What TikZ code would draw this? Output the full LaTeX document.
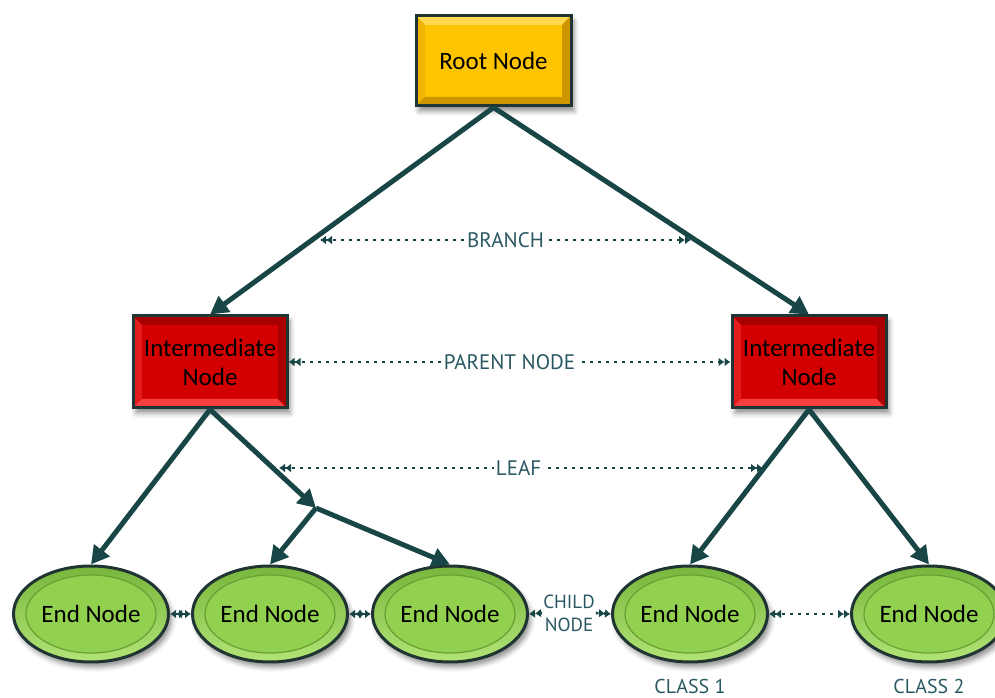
\documentclass[tikz,border=0pt]{standalone}
\usepackage{fontspec}
\setmainfont{Carlito}
\newfontfamily\tagfont{PT Sans}
\usetikzlibrary{arrows.meta,shapes.geometric,shadows.blur}

\definecolor{wire}{RGB}{24,70,70}
\definecolor{rim}{RGB}{32,52,52}
\definecolor{tagtext}{RGB}{42,88,98}
\definecolor{gold}{RGB}{255,196,0}
\definecolor{goldhi}{RGB}{255,216,80}
\definecolor{goldlo}{RGB}{205,150,0}
\definecolor{goldside}{RGB}{240,180,0}
\definecolor{crimson}{RGB}{210,0,0}
\definecolor{crimsonhi}{RGB}{248,64,64}
\definecolor{crimsonlo}{RGB}{168,0,0}
\definecolor{crimsonside}{RGB}{228,28,28}
\definecolor{lime}{RGB}{146,208,80}
\definecolor{limehi}{RGB}{178,228,118}
\definecolor{limelo}{RGB}{120,182,60}
\definecolor{limeedge}{RGB}{104,160,52}

% four bevelled faces drawn inside a rectangular node
\newcommand\bevelfaces[4]{%
  \fill[#1] (path picture bounding box.north west) -- (path picture bounding box.north east)
    -- ([shift={(-9pt,-9pt)}]path picture bounding box.north east)
    -- ([shift={(9pt,-9pt)}]path picture bounding box.north west) -- cycle;
  \fill[#2] (path picture bounding box.north west) -- (path picture bounding box.south west)
    -- ([shift={(9pt,9pt)}]path picture bounding box.south west)
    -- ([shift={(9pt,-9pt)}]path picture bounding box.north west) -- cycle;
  \fill[#3] (path picture bounding box.south west) -- (path picture bounding box.south east)
    -- ([shift={(-9pt,9pt)}]path picture bounding box.south east)
    -- ([shift={(9pt,9pt)}]path picture bounding box.south west) -- cycle;
  \fill[#4] (path picture bounding box.north east) -- (path picture bounding box.south east)
    -- ([shift={(-9pt,9pt)}]path picture bounding box.south east)
    -- ([shift={(-9pt,-9pt)}]path picture bounding box.north east) -- cycle;
}

\tikzset{
  twin/.tip={Latex[length=6pt,width=9pt] Latex[length=6pt,width=9pt]},
  nodetext/.style={font=\fontsize{25}{29}\selectfont, text=black, align=center},
  softshadow/.style={blur shadow={shadow xshift=3pt, shadow yshift=-5pt,
      shadow blur radius=5pt, shadow opacity=45}},
  rootbox/.style={nodetext, rectangle, minimum width=155pt, minimum height=90pt,
      inner sep=0pt, fill=gold, draw=rim, line width=3pt, softshadow,
      path picture={\bevelfaces{goldhi}{goldside}{goldlo}{goldlo}}},
  midbox/.style={nodetext, rectangle, minimum width=154pt, minimum height=92pt,
      inner sep=0pt, fill=crimson, draw=rim, line width=3pt, softshadow,
      path picture={\bevelfaces{crimsonlo}{crimsonside}{crimsonhi}{crimsonlo}}},
  leafbox/.style={nodetext, ellipse, minimum width=155pt, minimum height=96pt,
      inner sep=0pt, top color=limelo, bottom color=limehi, draw=rim, line width=3pt,
      softshadow,
      path picture={\draw[line width=1.2pt, draw=limeedge, fill=lime]
        (path picture bounding box.center) ellipse [x radius=65pt, y radius=39pt];}},
  branchline/.style={draw=wire, line width=5pt, -{Triangle[length=18pt,width=19pt]}},
  dotline/.style={draw=wire, line width=2.6pt, dash pattern=on 2.6pt off 5.4pt},
  tag/.style={font=\tagfont\fontsize{21}{23}\selectfont, text=tagtext, fill=white,
      inner sep=1.5pt, align=center},
  classtag/.style={font=\tagfont\fontsize{20}{22}\selectfont, text=tagtext}
}

\begin{document}
\begin{tikzpicture}[x=1pt, y=1pt]
  \useasboundingbox (0,0) rectangle (995,698);

  % tree nodes
  \node[rootbox] (rt) at (493.5,637) {Root Node};
  \node[midbox]  (il) at (210,336) {Intermediate\\Node};
  \node[midbox]  (ir) at (809,336) {Intermediate\\Node};
  \node[leafbox] (e1) at (91,84)  {End Node};
  \node[leafbox] (e2) at (270,84) {End Node};
  \node[leafbox] (e3) at (450,84) {End Node};
  \node[leafbox] (e4) at (690,84) {End Node};
  \node[leafbox] (e5) at (929,84) {End Node};

  % split point below the left intermediate node
  \coordinate (j) at (316,190);

  % branches
  \draw[branchline] (rt.south) -- (il.north);
  \draw[branchline] (rt.south) -- (ir.north);
  \draw[branchline] (il.south) -- (e1.north);
  \draw[branchline] (il.south) -- (j);
  \draw[branchline] (j) -- (e2.north);
  \draw[branchline] (j) -- (e3.north);
  \draw[branchline] (ir.south) -- (e4.north);
  \draw[branchline] (ir.south) -- (e5.north);

  % annotation lines
  \coordinate (b1) at (320,458);
  \coordinate (b2) at (691,458);
  \draw[dotline, twin-twin] (b1) -- (b2) node[tag, midway] (tb) {BRANCH};

  \draw[dotline, twin-twin] (il.east) -- (ir.west) node[tag, midway] (tp) {PARENT NODE};

  \coordinate (l1) at (279,230);
  \coordinate (l2) at (763,230);
  \draw[dotline, twin-twin] (l1) -- (l2) node[tag, pos=0.495] (tl) {LEAF};

  \draw[dotline, twin-twin] (e1.east) -- (e2.west);
  \draw[dotline, twin-twin] (e2.east) -- (e3.west);
  \draw[dotline, twin-twin] (e4.east) -- (e5.west);

  \node[tag, font=\tagfont\fontsize{19}{23}\selectfont, inner sep=1pt] (cn) at (569,85) {CHILD\\NODE};
  \draw[dotline, -twin] (cn.west) -- (e3.east);
  \draw[dotline, -twin] (cn.east) -- (e4.west);

  % class captions
  \node[classtag] (c1) at (690,11) {CLASS 1};
  \node[classtag] (c2) at (929,11) {CLASS 2};
\end{tikzpicture}
\end{document}
